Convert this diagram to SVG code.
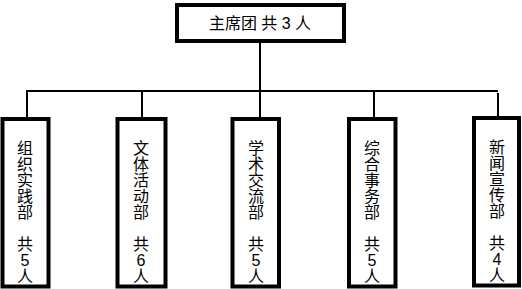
<svg xmlns="http://www.w3.org/2000/svg" width="522" height="289" viewBox="0 0 522 289">
<style>
.box{fill:#fff;stroke:#000;stroke-width:4}
.ln{stroke:#000;stroke-width:2;fill:none}
text{font-family:"Liberation Sans","Noto Sans CJK SC",sans-serif;font-size:16px;fill:#000;text-anchor:middle;dominant-baseline:central}
</style>
<rect width="522" height="289" fill="#fff"/>
<g id="connectors">
<line class="ln" x1="260" y1="41" x2="260" y2="91"/>
<line class="ln" x1="26" y1="91" x2="498" y2="91"/>
<line class="ln" x1="27" y1="90" x2="27" y2="119"/>
<line class="ln" x1="142" y1="91" x2="142" y2="119"/>
<line class="ln" x1="260" y1="91" x2="260" y2="119"/>
<line class="ln" x1="374" y1="91" x2="374" y2="119"/>
<line class="ln" x1="498" y1="93" x2="498" y2="118"/>
</g>
<g id="top">
<rect class="box" x="177" y="5" width="167" height="36"/>
<text x="260" y="23">主席团 共 3 人</text>
</g>
<g id="n1">
<rect class="box" x="2.5" y="119" width="46" height="167.5"/>
<text x="25" y="148">组</text><text x="25" y="164">织</text><text x="25" y="180">实</text><text x="25" y="196">践</text><text x="25" y="212">部</text>
<text x="25" y="244">共</text><text x="25" y="260">5</text><text x="25" y="276">人</text>
</g>
<g id="n2">
<rect class="box" x="117.5" y="119" width="48" height="167.5"/>
<text x="141" y="148">文</text><text x="141" y="164">体</text><text x="141" y="180">活</text><text x="141" y="196">动</text><text x="141" y="212">部</text>
<text x="141" y="244">共</text><text x="141" y="260">6</text><text x="141" y="276">人</text>
</g>
<g id="n3">
<rect class="box" x="232.5" y="119" width="46.5" height="167.5"/>
<text x="256" y="148">学</text><text x="256" y="164">术</text><text x="256" y="180">交</text><text x="256" y="196">流</text><text x="256" y="212">部</text>
<text x="256" y="244">共</text><text x="256" y="260">5</text><text x="256" y="276">人</text>
</g>
<g id="n4">
<rect class="box" x="349" y="119" width="46.5" height="167.5"/>
<text x="372" y="148">综</text><text x="372" y="164">合</text><text x="372" y="180">事</text><text x="372" y="196">务</text><text x="372" y="212">部</text>
<text x="372" y="244">共</text><text x="372" y="260">5</text><text x="372" y="276">人</text>
</g>
<g id="n5">
<rect class="box" x="474" y="118" width="45" height="167.5"/>
<text x="497" y="147">新</text><text x="497" y="163">闻</text><text x="497" y="179">宣</text><text x="497" y="195">传</text><text x="497" y="211">部</text>
<text x="497" y="243">共</text><text x="497" y="259">4</text><text x="497" y="275">人</text>
</g>
</svg>
